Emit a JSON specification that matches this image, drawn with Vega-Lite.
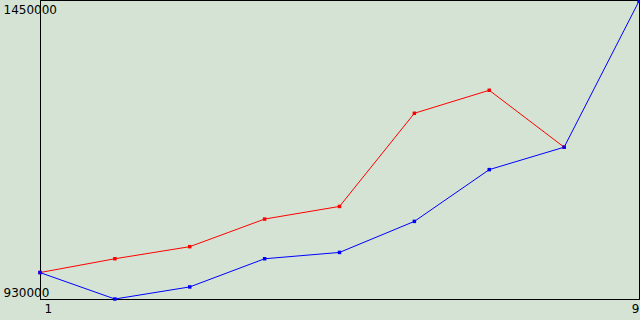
{
  "$schema": "https://vega.github.io/schema/vega-lite/v6.json",
  "width": 599,
  "height": 299,
  "autosize": {"type": "none"},
  "padding": {"left": 40, "top": 0, "right": 1, "bottom": 21},
  "background": "#d4e3d4",
  "config": {"view": {"stroke": "#000000", "strokeWidth": 1}, "font": "DejaVu Sans"},
  "data": {"values": [
    {"x": 1, "series": "Series 1", "value": 976000},
    {"x": 2, "series": "Series 1", "value": 1000000},
    {"x": 3, "series": "Series 1", "value": 1021000},
    {"x": 4, "series": "Series 1", "value": 1069000},
    {"x": 5, "series": "Series 1", "value": 1091000},
    {"x": 6, "series": "Series 1", "value": 1253000},
    {"x": 7, "series": "Series 1", "value": 1293000},
    {"x": 8, "series": "Series 1", "value": 1194000},
    {"x": 1, "series": "Series 2", "value": 976000},
    {"x": 2, "series": "Series 2", "value": 930000},
    {"x": 3, "series": "Series 2", "value": 951000},
    {"x": 4, "series": "Series 2", "value": 1000000},
    {"x": 5, "series": "Series 2", "value": 1011000},
    {"x": 6, "series": "Series 2", "value": 1065000},
    {"x": 7, "series": "Series 2", "value": 1155000},
    {"x": 8, "series": "Series 2", "value": 1194000},
    {"x": 9, "series": "Series 2", "value": 1448000}
  ]},
  "mark": {"type": "line", "strokeWidth": 1, "point": {"shape": "square", "size": 12, "filled": true, "opacity": 1}},
  "encoding": {
    "x": {"field": "x", "type": "quantitative",
      "scale": {"domain": [1, 9], "nice": false, "zero": false},
      "axis": {"values": [1, 9], "format": "d", "title": null, "grid": false, "ticks": false, "domain": true, "domainColor": "#000000", "labelFlush": true, "labelPadding": 4, "labelOffset": {"condition": {"test": "datum.value < 5", "value": 4}, "value": 0}, "labelFontSize": 12, "labelColor": "#000000", "labelFont": "DejaVu Sans"}},
    "y": {"field": "value", "type": "quantitative",
      "scale": {"domain": [930000, 1450000], "nice": false, "zero": false},
      "axis": {"values": [930000, 1450000], "format": "d", "title": null, "grid": false, "ticks": false, "domain": true, "domainColor": "#000000", "labelAlign": "left", "labelPadding": 37, "labelFlush": true, "labelOffset": {"condition": {"test": "datum.value > 1200000", "value": 4}, "value": 0}, "labelFontSize": 12, "labelColor": "#000000", "labelFont": "DejaVu Sans"}},
    "color": {"field": "series", "type": "nominal",
      "scale": {"domain": ["Series 1", "Series 2"], "range": ["#ff0000", "#0000ff"]},
      "legend": null}
  }
}
